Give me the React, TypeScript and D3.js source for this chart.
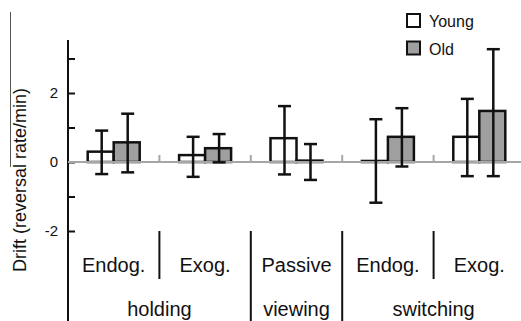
import React from "react";
import * as d3 from "d3";

const conditionLabels = ["Endog.", "Exog.", "Passive", "Endog.", "Exog."];
const taskLabels = ["holding", "viewing", "switching"];
const taskSpans = [[0, 1], [2, 2], [3, 4]];
const seriesNames = ["Young", "Old"];

const youngMean = [0.30, 0.20, 0.69, 0.03, 0.73];
const youngHigh = [0.91, 0.73, 1.62, 1.24, 1.83];
const youngLow = [-0.35, -0.43, -0.36, -1.18, -0.41];

const oldMean = [0.57, 0.40, 0.04, 0.73, 1.48];
const oldHigh = [1.40, 0.81, 0.52, 1.56, 3.27];
const oldLow = [-0.30, -0.01, -0.52, -0.13, -0.41];

const yTicks = [-2, -1, 0, 1, 2, 3];

export default function App() {
    const width = 521;
    const height = 321;
    const axisX = 68;
    const font = "'Liberation Sans', Arial, sans-serif";
    const grayFill = "#9f9f9f";
    const zeroGray = "#a6a6a6";

    const svgRef = React.useRef<SVGSVGElement>(null);

    React.useEffect(() => {
        const svg = d3.select(svgRef.current);
        svg.selectAll("*").remove();

        const idx = conditionLabels.map((_, i) => i);
        const x0 = d3.scaleBand<number>().domain(idx).range([axisX, 525]);
        const barW = 26;
        const x1 = d3.scaleBand<string>().domain(seriesNames).range([-barW, barW]);
        const y = d3.scaleLinear().domain([-2, 2]).range([231, 93]);

        const center = (i: number) => (x0(i) as number) + x0.step() / 2;

        // axis ticks (inward) and labels
        const axis = d3.axisLeft(y)
            .tickValues(yTicks)
            .tickSizeInner(-7)
            .tickSizeOuter(0)
            .tickPadding(10)
            .tickFormat(d => (Number(d) % 2 === 0 ? String(d) : ""));

        const g = svg.append("g").attr("transform", `translate(${axisX},0)`).call(axis);
        g.select(".domain").remove();
        g.selectAll("line").attr("stroke", "#111").attr("stroke-width", 2);
        g.selectAll("text").attr("font-size", 15).attr("font-family", font).attr("fill", "#111");

        svg.append("line")
            .attr("x1", axisX).attr("x2", axisX)
            .attr("y1", 40).attr("y2", height)
            .attr("stroke", "#111").attr("stroke-width", 2);

        // bars
        const series = [
            { name: "Young", mean: youngMean, low: youngLow, high: youngHigh, fill: "#fff" },
            { name: "Old", mean: oldMean, low: oldLow, high: oldHigh, fill: grayFill }
        ];

        for (const s of series) {
            svg.append("g").selectAll("rect")
                .data(s.mean)
                .enter()
                .append("rect")
                .attr("x", (d, i) => center(i) + (x1(s.name) as number))
                .attr("width", x1.bandwidth())
                .attr("y", d => Math.min(y(d), y(0)))
                .attr("height", d => Math.abs(y(d) - y(0)))
                .attr("fill", s.fill)
                .attr("stroke", "#111")
                .attr("stroke-width", 2.5);
        }

        // zero line and small separators on it
        svg.append("line")
            .attr("x1", axisX).attr("x2", width)
            .attr("y1", y(0)).attr("y2", y(0))
            .attr("stroke", zeroGray).attr("stroke-width", 2);

        svg.append("g").selectAll("line")
            .data(idx.slice(1))
            .enter()
            .append("line")
            .attr("x1", i => x0(i) as number).attr("x2", i => x0(i) as number)
            .attr("y1", y(0) - 7).attr("y2", y(0))
            .attr("stroke", zeroGray).attr("stroke-width", 2);

        // error bars
        const cap = 6.5;
        for (const s of series) {
            const eg = svg.append("g").attr("stroke", "#111").attr("stroke-width", 2.5);
            s.mean.forEach((m, i) => {
                const cx = center(i) + (x1(s.name) as number) + x1.bandwidth() / 2 + 1;
                eg.append("line").attr("x1", cx).attr("x2", cx).attr("y1", y(s.low[i])).attr("y2", y(s.high[i]));
                eg.append("line").attr("x1", cx - cap).attr("x2", cx + cap).attr("y1", y(s.high[i])).attr("y2", y(s.high[i]));
                eg.append("line").attr("x1", cx - cap).attr("x2", cx + cap).attr("y1", y(s.low[i])).attr("y2", y(s.low[i]));
            });
        }

        // category separators below
        const sepLong = [2, 3];
        svg.append("g").selectAll("line")
            .data(idx.slice(1))
            .enter()
            .append("line")
            .attr("x1", i => x0(i) as number).attr("x2", i => x0(i) as number)
            .attr("y1", 231)
            .attr("y2", i => (sepLong.includes(i) ? height : 279))
            .attr("stroke", "#111").attr("stroke-width", 2);

        svg.append("g").selectAll("text")
            .data(conditionLabels)
            .enter()
            .append("text")
            .attr("x", (d, i) => center(i))
            .attr("y", 272)
            .attr("text-anchor", "middle")
            .attr("font-family", font)
            .attr("font-size", 20)
            .attr("fill", "#111")
            .text(d => d);

        svg.append("g").selectAll("text")
            .data(taskLabels)
            .enter()
            .append("text")
            .attr("x", (d, i) => (center(taskSpans[i][0]) + center(taskSpans[i][1])) / 2)
            .attr("y", 316)
            .attr("text-anchor", "middle")
            .attr("font-family", font)
            .attr("font-size", 20)
            .attr("fill", "#111")
            .text(d => d);

        // y label and the stray line next to it
        svg.append("line")
            .attr("x1", 10.5).attr("x2", 10.5)
            .attr("y1", 12).attr("y2", 167)
            .attr("stroke", "#555").attr("stroke-width", 1);

        svg.append("text")
            .attr("transform", "translate(26,180) rotate(-90)")
            .attr("text-anchor", "middle")
            .attr("font-family", font)
            .attr("font-size", 18)
            .attr("fill", "#111")
            .text("Drift (reversal rate/min)");

        // legend
        const legend = svg.append("g").attr("transform", "translate(407,14)");
        series.forEach((s, i) => {
            legend.append("rect")
                .attr("x", 0).attr("y", i * 27.5)
                .attr("width", 13).attr("height", 13)
                .attr("fill", s.fill)
                .attr("stroke", "#111").attr("stroke-width", 2);
            legend.append("text")
                .attr("x", 22).attr("y", i * 27.5 + 13)
                .attr("font-family", font)
                .attr("font-size", 16)
                .attr("fill", "#111")
                .text(s.name);
        });
    }, []);

    return (
        <svg ref={svgRef} width={width} height={height}
             style={{ position: "absolute", left: 0, top: 0, background: "#fff" }}></svg>
    );
}
